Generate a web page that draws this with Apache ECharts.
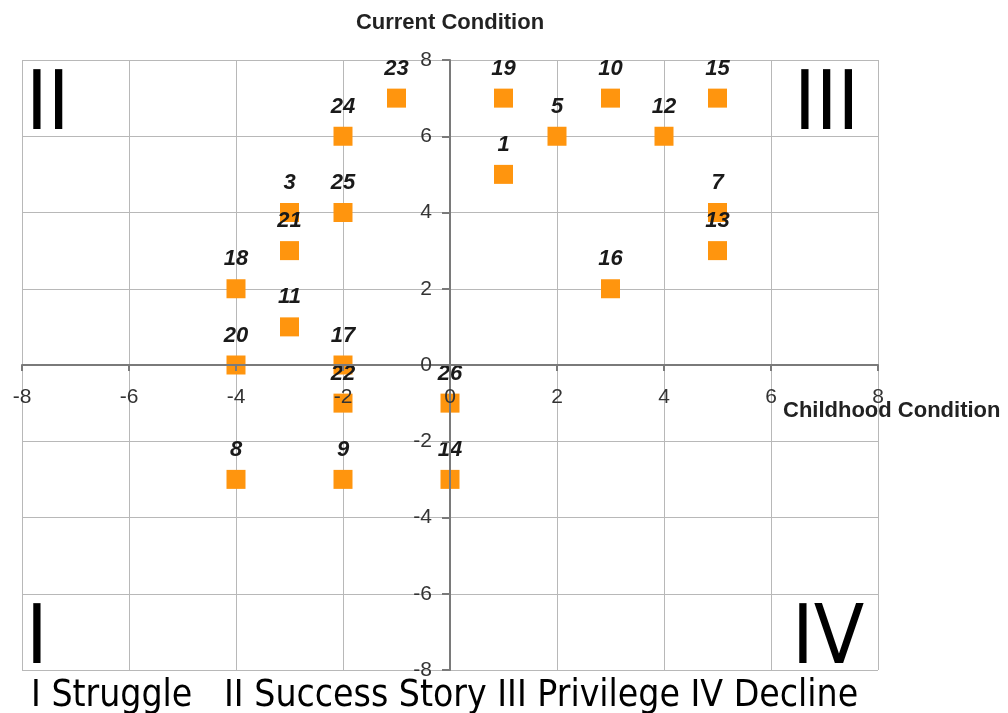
<!DOCTYPE html>
<html>
<head>
<meta charset="utf-8">
<script src="https://cdn.jsdelivr.net/npm/echarts@6/dist/echarts.min.js"></script>
<style>
  html, body { margin: 0; padding: 0; background: #fff; }
  #chart { width: 1008px; height: 713px; }
</style>
</head>
<body>
<div id="chart"></div>
<script>
// point ids and coordinates (childhood, current)
const ids = ['1', '3', '5', '7', '8', '9', '10', '11', '12', '13', '14', '15', '16', '17', '18', '19', '20', '21', '22', '23', '24', '25', '26'];
const childhood = [1, -3, 2, 5, -4, -2, 3, -3, 4, 5, 0, 5, 3, -2, -4, 1, -4, -3, -2, -1, -2, -2, 0];
const current = [5, 4, 6, 4, -3, -3, 7, 1, 6, 3, -3, 7, 2, 0, 2, 7, 0, 3, -1, 7, 6, 4, -1];
const quadrantText = 'I Struggle   II Success Story III Privilege IV Decline';

const chart = echarts.init(document.getElementById('chart'));

const points = ids.map((id, i) => ({ name: id, value: [childhood[i], current[i]] }));

const axisFont = { color: '#333', fontSize: 21, fontFamily: 'Liberation Sans' };
const romanFont = '82px "DejaVu Sans Condensed", "DejaVu Sans"';
const axisColor = '#7a7a7a';
const gridLine = { show: true, lineStyle: { color: '#b8b8b8', width: 1 } };

// axis 0 only draws the grid lines under the marks,
// axis 1 draws the zero lines, ticks and labels on top of them
// (grid is 856 x 610, so the zero lines sit half way across)
const option = {
  animation: false,
  grid: { left: 22, right: 130, top: 60, bottom: 43, containLabel: false, outerBoundsMode: 'none' },
  xAxis: [
    {
      type: 'value', min: -8, max: 8, interval: 2,
      axisLine: { show: false }, axisTick: { show: false }, axisLabel: { show: false },
      splitLine: gridLine
    },
    {
      type: 'value', min: -8, max: 8, interval: 2,
      position: 'bottom',
      offset: -305,
      z: 5,
      name: 'Childhood Condition',
      nameLocation: 'end',
      nameGap: -95,
      nameMoveOverlap: false,
      nameTextStyle: {
        color: '#222', fontSize: 22, fontWeight: 'bold', fontFamily: 'Liberation Sans',
        align: 'left', verticalAlign: 'top', padding: [35, 0, 0, 0]
      },
      axisLine: { onZero: false, lineStyle: { color: axisColor, width: 2 } },
      axisTick: { show: true, length: 6, lineStyle: { color: axisColor, width: 2 } },
      axisLabel: Object.assign({ margin: 22 }, axisFont),
      splitLine: { show: false }
    }
  ],
  yAxis: [
    {
      type: 'value', min: -8, max: 8, interval: 2,
      axisLine: { show: false }, axisTick: { show: false }, axisLabel: { show: false },
      splitLine: gridLine
    },
    {
      type: 'value', min: -8, max: 8, interval: 2,
      position: 'left',
      offset: -428,
      z: 5,
      name: 'Current Condition',
      nameLocation: 'end',
      nameGap: 26,
      nameTextStyle: {
        color: '#222', fontSize: 22, fontWeight: 'bold', fontFamily: 'Liberation Sans'
      },
      axisLine: { onZero: false, lineStyle: { color: axisColor, width: 2 } },
      axisTick: { show: true, length: 8, lineStyle: { color: axisColor, width: 2 } },
      axisLabel: Object.assign({ margin: 18 }, axisFont),
      splitLine: { show: false }
    }
  ],
  series: [
    {
      type: 'scatter',
      xAxisIndex: 0,
      yAxisIndex: 0,
      symbol: 'rect',
      symbolSize: 19,
      itemStyle: { color: '#ff950e', opacity: 1 },
      data: points,
      label: {
        show: true,
        position: 'top',
        distance: 9,
        formatter: p => p.name,
        color: '#1a1a1a',
        fontSize: 22,
        fontWeight: 'bold',
        fontStyle: 'italic',
        fontFamily: 'Liberation Sans'
      }
    }
  ],
  graphic: [
    { type: 'text', left: 26, top: 67, style: { text: 'II', font: romanFont, fill: '#000' } },
    { type: 'text', left: 794, top: 67, style: { text: 'III', font: romanFont, fill: '#000' } },
    { type: 'text', left: 26, top: 601, style: { text: 'I', font: romanFont, fill: '#000' } },
    { type: 'text', left: 792, top: 601, style: { text: 'IV', font: romanFont, fill: '#000' } },
    {
      type: 'text', left: 31, top: 678,
      style: { text: quadrantText, font: '37px "DejaVu Sans Condensed", "DejaVu Sans"', fill: '#000' }
    }
  ]
};

chart.setOption(option);
</script>
</body>
</html>
